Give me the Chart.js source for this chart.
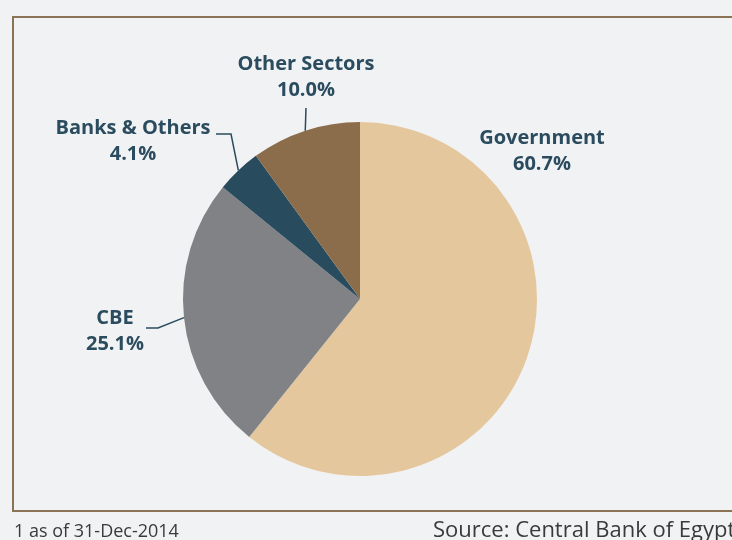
<!DOCTYPE html>
<html>
<head>
<meta charset="utf-8">
<script src="https://cdn.jsdelivr.net/npm/chart.js@4/dist/chart.umd.min.js"></script>
<style>
  html, body { margin: 0; padding: 0; background: #F1F2F4; }
  #wrap { position: relative; width: 732px; height: 540px; }
  canvas { display: block; }
</style>
</head>
<body>
<div id="wrap"><canvas id="c" width="732" height="540"></canvas></div>
<script>
const categories = ["Government", "CBE", "Banks & Others", "Other Sectors"];
const shares = [60.7, 25.1, 4.1, 10.0];
const footnote = "1 as of 31-Dec-2014";
const source = "Source: Central Bank of Egypt";

const colors = ["#E5C79D", "#808285", "#284C5E", "#8B6D4B"];
const textColor = "#2B4C5E";

// label layout: text center x, first line y; leader path (elbow points) or null
const labelLayout = [
  { x: 542, y: 138, elbow: null },
  { x: 115, y: 318, elbow: [[158, 328], [146, 328]] },
  { x: 133, y: 128, elbow: [[231, 134], [216, 134]] },
  { x: 306, y: 64,  elbow: [[306, 108]] }
];

const decor = {
  id: 'decor',
  beforeDraw(chart) {
    const ctx = chart.ctx;
    ctx.save();
    ctx.fillStyle = "#F1F2F4";
    ctx.fillRect(0, 0, chart.width, chart.height);
    ctx.strokeStyle = "#8B7355";
    ctx.lineWidth = 2;
    ctx.beginPath();
    ctx.moveTo(740, 17);
    ctx.lineTo(13, 17);
    ctx.lineTo(13, 511);
    ctx.lineTo(740, 511);
    ctx.stroke();
    ctx.fillStyle = "#3A3A3A";
    ctx.textBaseline = "alphabetic";
    ctx.font = "18px 'Open Sans'";
    ctx.fillText(footnote, 14, 537);
    ctx.font = "22px 'Open Sans'";
    ctx.fillText(source, 433, 537);
    ctx.restore();
  },
  afterDraw(chart) {
    const ctx = chart.ctx;
    const meta = chart.getDatasetMeta(0);
    ctx.save();
    meta.data.forEach((arc, i) => {
      const L = labelLayout[i];
      const mid = (arc.startAngle + arc.endAngle) / 2;
      const px = arc.x + Math.cos(mid) * arc.outerRadius;
      const py = arc.y + Math.sin(mid) * arc.outerRadius;
      if (L.elbow) {
        ctx.strokeStyle = textColor;
        ctx.lineWidth = 1.5;
        ctx.beginPath();
        ctx.moveTo(px, py);
        L.elbow.forEach(p => ctx.lineTo(p[0], p[1]));
        ctx.stroke();
      }
      ctx.fillStyle = textColor;
      ctx.textAlign = "center";
      ctx.textBaseline = "middle";
      ctx.font = "bold 20px 'Open Sans'";
      ctx.fillText(categories[i], L.x, L.y);
      ctx.fillText(shares[i].toFixed(1) + "%", L.x, L.y + 26);
    });
    ctx.restore();
  }
};

new Chart(document.getElementById('c'), {
  type: 'pie',
  data: {
    labels: categories,
    datasets: [{
      data: shares,
      backgroundColor: colors,
      borderWidth: 0
    }]
  },
  options: {
    responsive: false,
    animation: false,
    layout: { padding: { top: 122, bottom: 64, left: 183, right: 195 } },
    plugins: {
      legend: { display: false },
      tooltip: { enabled: false }
    }
  },
  plugins: [decor]
});
</script>
</body>
</html>
